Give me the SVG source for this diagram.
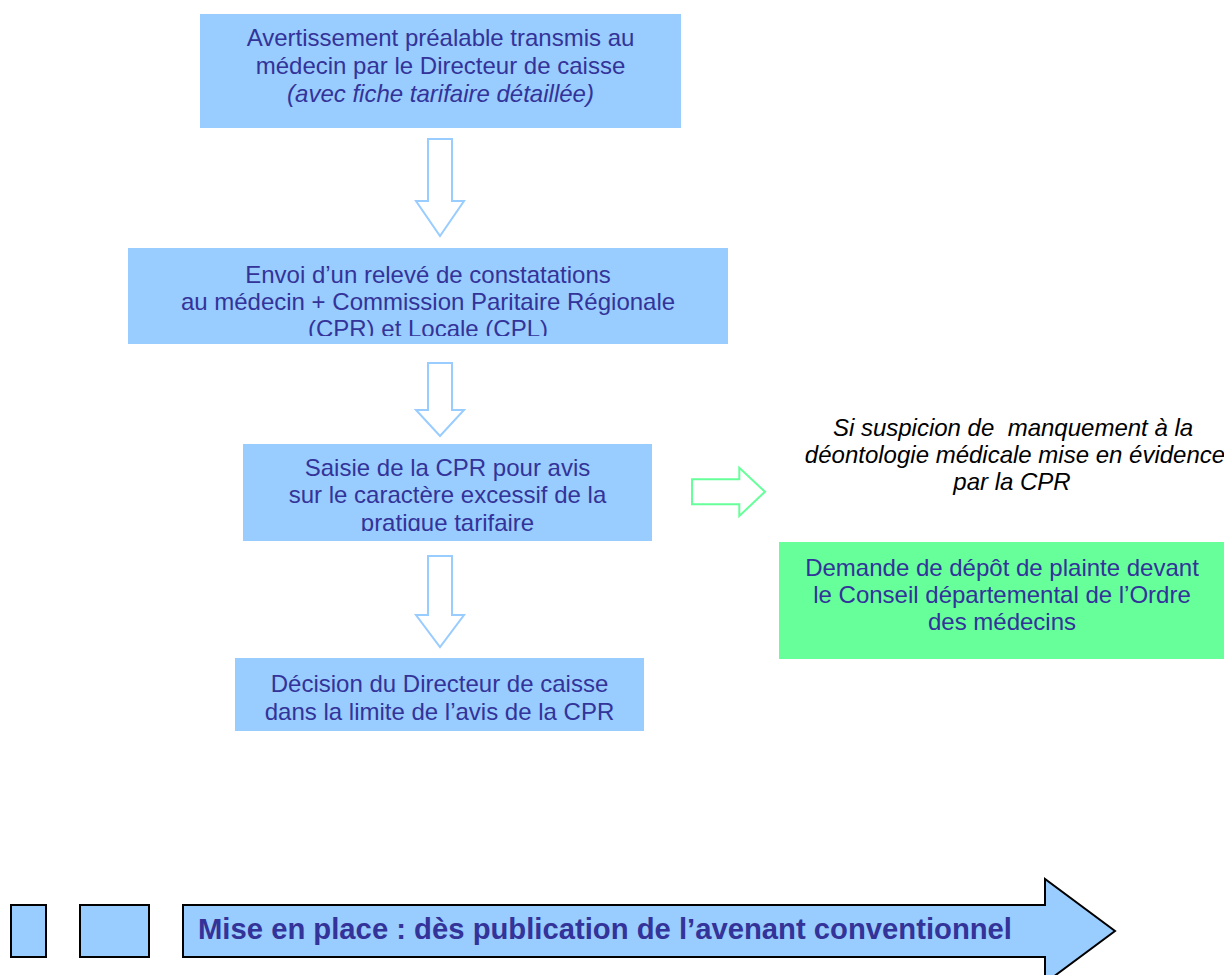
<svg xmlns="http://www.w3.org/2000/svg" width="1224" height="975" viewBox="0 0 1224 975">
<style>
.box{fill:#99ccff;stroke:none}
.gbox{fill:#66ff99;stroke:none}
.t{font-family:"Liberation Sans",Arial,sans-serif;font-size:24px;fill:#333399;text-anchor:middle}
.it{font-style:italic}
.note{font-family:"Liberation Sans",Arial,sans-serif;font-size:24px;fill:#000;font-style:italic;text-anchor:middle}
.down{fill:#fff;stroke:#99ccff;stroke-width:2}
.right{fill:#fff;stroke:#66ff99;stroke-width:2}
.bar{fill:#99ccff;stroke:#000;stroke-width:2}
.bt{font-family:"Liberation Sans",Arial,sans-serif;font-weight:bold;font-size:29px;fill:#333399}
</style>
<defs>
<clipPath id="c2"><rect x="128" y="248" width="600" height="88"/></clipPath>
<clipPath id="c3"><rect x="243" y="444" width="409" height="87"/></clipPath>
</defs>

<g id="node1">
<rect class="box" x="200" y="14" width="481" height="114"/>
<text class="t" x="440.5" y="46">Avertissement préalable transmis au</text>
<text class="t" x="440.5" y="74">médecin par le Directeur de caisse</text>
<text class="t it" x="440.5" y="102">(avec fiche tarifaire détaillée)</text>
</g>

<g id="node2">
<rect class="box" x="128" y="248" width="600" height="96"/>
<g clip-path="url(#c2)">
<text class="t" x="428" y="283">Envoi d’un relevé de constatations</text>
<text class="t" x="428" y="310">au médecin + Commission Paritaire Régionale</text>
<text class="t" x="428" y="337">(CPR) et Locale (CPL)</text>
</g>
</g>

<g id="node3">
<rect class="box" x="243" y="444" width="409" height="97"/>
<g clip-path="url(#c3)">
<text class="t" x="447.5" y="476">Saisie de la CPR pour avis</text>
<text class="t" x="447.5" y="503">sur le caractère excessif de la</text>
<text class="t" x="447.5" y="531">pratique tarifaire</text>
</g>
</g>

<g id="node4">
<rect class="box" x="235" y="658" width="409" height="73"/>
<text class="t" x="439.5" y="692">Décision du Directeur de caisse</text>
<text class="t" x="439.5" y="720">dans la limite de l’avis de la CPR</text>
</g>

<g id="note">
<text class="note" x="1013" y="436" xml:space="preserve">Si suspicion de  manquement à la</text>
<text class="note" x="1015" y="463">déontologie médicale mise en évidence</text>
<text class="note" x="1012" y="490">par la CPR</text>
</g>

<g id="node5">
<rect class="gbox" x="779" y="542" width="445" height="117"/>
<text class="t" x="1002" y="576">Demande de dépôt de plainte devant</text>
<text class="t" x="1002" y="603">le Conseil départemental de l’Ordre</text>
<text class="t" x="1002" y="630">des médecins</text>
</g>

<g id="connectors">
<polygon class="down" points="428,139 452,139 452,201 464,201 440,236 416,201 428,201"/>
<polygon class="down" points="428,363 452,363 452,410 464,410 440,436 416,410 428,410"/>
<polygon class="down" points="428,556 452,556 452,615 464,615 440,647 416,615 428,615"/>
<polygon class="right" points="692,479.3 739.3,479.3 739.3,467.7 765,491.7 739.3,516 739.3,504.3 692,504.3"/>
</g>

<g id="timeline">
<rect class="bar" x="11" y="905" width="35" height="52"/>
<rect class="bar" x="80" y="905" width="69" height="52"/>
<polygon class="bar" points="183,905 1045,905 1045,879 1115,931 1045,983 1045,957 183,957"/>
<text class="bt" x="198" y="939" textLength="814" lengthAdjust="spacingAndGlyphs">Mise en place : dès publication de l’avenant conventionnel</text>
</g>
</svg>
